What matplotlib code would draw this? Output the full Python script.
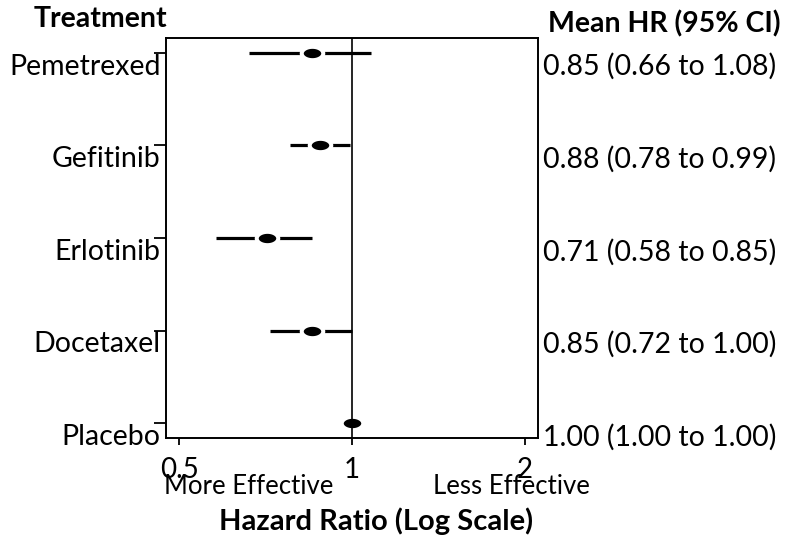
import matplotlib.pyplot as plt
import matplotlib.transforms as mtransforms
from matplotlib.path import Path
import numpy as np

plt.rcParams['font.family'] = ['Lato', 'DejaVu Sans']

# Forest plot data (top to bottom)
treatments = ['Pemetrexed', 'Gefitinib', 'Erlotinib', 'Docetaxel', 'Placebo']
hr_mean = [0.85, 0.88, 0.71, 0.85, 1.00]
hr_low = [0.66, 0.78, 0.58, 0.72, 1.00]
hr_high = [1.08, 0.99, 0.85, 1.00, 1.00]
x_ticks = [0.5, 1, 2]

ypos = np.arange(len(treatments))[::-1]

fig = plt.figure(figsize=(7.91, 5.37), dpi=100)
ax = fig.add_axes([0.2099, 0.1844, 0.4703, 0.7449])

# ellipse marker
t = np.linspace(0, 2 * np.pi, 60)
ellipse = Path(np.column_stack([np.cos(t), 0.62 * np.sin(t)]), closed=True)

for y, m, lo, hi in zip(ypos, hr_mean, hr_low, hr_high):
    ax.plot([lo, hi], [y, y], color='black', lw=2.3, solid_capstyle='butt', zorder=2)
    ax.plot(m, y, marker=ellipse, ms=15.5, color='black', mfc='black',
            mec='white', mew=2.9, zorder=3)

ax.axvline(1, color='black', lw=1.2, zorder=4)

ax.set_xscale('log')
ax.set_xlim(0.474, 2.11)
ax.set_ylim(-0.16, 4.16)
ax.set_xticks(x_ticks)
ax.set_xticklabels([str(v) for v in x_ticks], fontsize=20)
ax.xaxis.set_minor_locator(plt.NullLocator())
ax.tick_params(axis='x', direction='out', length=5, width=1.3, pad=9)
ax.set_yticks(ypos)
ax.set_yticklabels([])
ax.tick_params(axis='y', direction='out', length=9, width=1.3)
for sp in ax.spines.values():
    sp.set_linewidth(1.4)

# treatment names and HR text, shifted a bit below each row
shift = mtransforms.offset_copy(ax.get_yaxis_transform(), fig=fig, x=0, y=-10, units='points')
for y, name, m, lo, hi in zip(ypos, treatments, hr_mean, hr_low, hr_high):
    ax.text(-0.015, y, name, transform=shift, ha='right', va='center', fontsize=20.5)
    ax.text(1.012, y, f'{m:.2f} ({lo:.2f} to {hi:.2f})', transform=shift,
            ha='left', va='center', fontsize=20.5)

fig.text(100 / 791, 1 - 19 / 537, 'Treatment', ha='center', va='center',
         fontsize=20.5, fontweight='bold')
fig.text(781 / 791, 1 - 24 / 537, 'Mean HR (95% CI)', ha='right', va='center',
         fontsize=20.5, fontweight='bold')

fig.text(249 / 791, 1 - 486 / 537, 'More Effective', ha='center', va='center', fontsize=18.5)
fig.text(511 / 791, 1 - 486 / 537, 'Less Effective', ha='center', va='center', fontsize=18.5)
fig.text(376 / 791, 1 - 521 / 537, 'Hazard Ratio (Log Scale)', ha='center', va='center',
         fontsize=21, fontweight='bold')

fig.savefig('out.png', dpi=100)
